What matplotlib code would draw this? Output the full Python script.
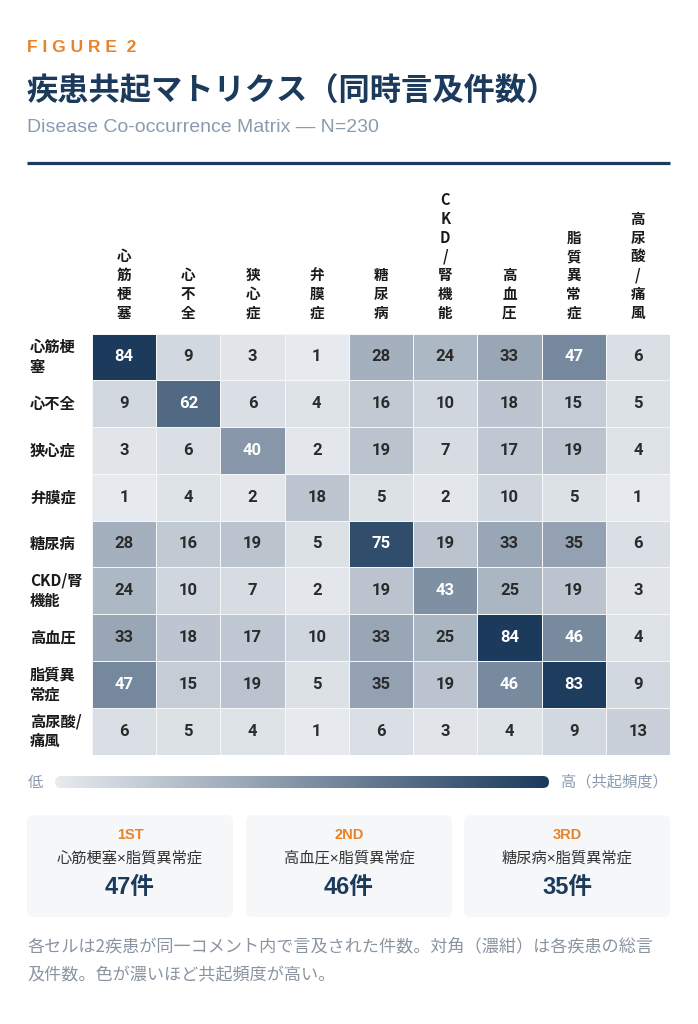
import numpy as np
import matplotlib
matplotlib.use("Agg")
import matplotlib.pyplot as plt
from matplotlib.colors import LinearSegmentedColormap
from matplotlib.patches import FancyBboxPatch

plt.rcParams["font.family"] = ["Noto Sans CJK JP", "DejaVu Sans"]

# data
diseases = ["心筋梗塞", "心不全", "狭心症", "弁膜症", "糖尿病",
            "CKD/腎機能", "高血圧", "脂質異常症", "高尿酸/痛風"]
row_labels = ["心筋梗\n塞", "心不全", "狭心症", "弁膜症", "糖尿病",
              "CKD/腎\n機能", "高血圧", "脂質異\n常症", "高尿酸/\n痛風"]
counts = np.array([
    [84, 9, 3, 1, 28, 24, 33, 47, 6],
    [9, 62, 6, 4, 16, 10, 18, 15, 5],
    [3, 6, 40, 2, 19, 7, 17, 19, 4],
    [1, 4, 2, 18, 5, 2, 10, 5, 1],
    [28, 16, 19, 5, 75, 19, 33, 35, 6],
    [24, 10, 7, 2, 19, 43, 25, 19, 3],
    [33, 18, 17, 10, 33, 25, 84, 46, 4],
    [47, 15, 19, 5, 35, 19, 46, 83, 9],
    [6, 5, 4, 1, 6, 3, 4, 9, 13],
])
top_ranks = ["1ST", "2ND", "3RD"]
top_pairs = ["心筋梗塞×脂質異常症", "高血圧×脂質異常症", "糖尿病×脂質異常症"]
top_counts = [47, 46, 35]

NAVY = "#1b3a5c"
ORANGE = "#e8832a"
GRAY = "#8a9bb0"
W, H = 698, 1024
LATIN = ["Liberation Sans", "Noto Sans CJK JP", "DejaVu Sans"]
NUMS = ["Roboto", "Noto Sans CJK JP"]

cmap = LinearSegmentedColormap.from_list("navy", ["#e8ebef", NAVY])

fig = plt.figure(figsize=(W / 100, H / 100), dpi=100)
bg = fig.add_axes([0, 0, 1, 1])
bg.set_xlim(0, W)
bg.set_ylim(H, 0)
bg.axis("off")

# header
bg.text(27, 48, "F I G U R E  2", color=ORANGE, fontsize=12.5, fontweight="bold",
        family=LATIN, va="center", ha="left")
bg.text(26, 92, "疾患共起マトリクス（同時言及件数）", color=NAVY, fontsize=22.5,
        fontweight="bold", va="center", ha="left")
bg.text(27, 127, "Disease Co-occurrence Matrix — N=230", color=GRAY, fontsize=14,
        family=LATIN, va="center", ha="left")
bg.plot([27, 670], [163, 163], color=NAVY, linewidth=2.3, solid_capstyle="butt")

# matrix
left, right, top, bottom = 92, 670, 333.5, 754.5
ax = fig.add_axes([left / W, 1 - bottom / H, (right - left) / W, (bottom - top) / H])
n = len(diseases)
ax.pcolormesh(np.arange(n + 1), np.arange(n + 1), counts, cmap=cmap,
              vmin=0, vmax=counts.max(), edgecolors="#f4f6f8", linewidth=0.4)
ax.set_xlim(0, n)
ax.set_ylim(n, 0)
for i in range(n):
    for j in range(n):
        v = counts[i, j]
        ax.text(j + 0.5, i + 0.5, str(v), ha="center", va="center",
                fontsize=12, fontweight="bold", family=NUMS,
                color="white" if v >= 40 else "#2b2b2b")
ax.xaxis.tick_top()
ax.set_xticks(np.arange(n) + 0.5)
ax.set_xticklabels(["\n".join(d) for d in diseases], fontsize=10.5,
                   fontweight="bold", linespacing=1.22, color="#1a1a1a")
ax.tick_params(axis="x", length=0, pad=9)
ax.set_yticks([])
for s in ax.spines.values():
    s.set_visible(False)
for i, lab in enumerate(row_labels):
    bg.text(30, top + (i + 0.5) * (bottom - top) / n, lab, ha="left", va="center",
            fontsize=11, fontweight="bold", color="#1a1a1a", linespacing=1.3)

# colour scale bar
bar = fig.add_axes([55 / W, 1 - 788 / H, (549 - 55) / W, 12 / H])
grad = np.linspace(0, 1, 256).reshape(1, -1)
im = bar.imshow(grad, cmap=cmap, aspect="auto", extent=[0, 494, 0, 12])
clip = FancyBboxPatch((0, 0), 494, 12, boxstyle="round,pad=0,rounding_size=6",
                      transform=bar.transData, facecolor="none", edgecolor="none")
bar.add_patch(clip)
im.set_clip_path(clip)
bar.axis("off")
bg.text(28, 782, "低", color=GRAY, fontsize=11, ha="left", va="center")
bg.text(561, 782, "高（共起頻度）", color=GRAY, fontsize=11, ha="left", va="center")

# top-3 cards
card_x = [27, 246, 464]
card_w = 206
for k in range(3):
    x0 = card_x[k]
    bg.add_patch(FancyBboxPatch((x0, 815), card_w, 102,
                                boxstyle="round,pad=0,rounding_size=7",
                                facecolor="#f5f7f9", edgecolor="none"))
    cx = x0 + card_w / 2
    bg.text(cx, 835, top_ranks[k], color=ORANGE, fontsize=10.5, fontweight="bold",
            family=LATIN, ha="center", va="center")
    bg.text(cx, 858, top_pairs[k], color="#333333", fontsize=11,
            family=LATIN, ha="center", va="center")
    bg.text(cx, 888, f"{top_counts[k]}件", color=NAVY, fontsize=17,
            fontweight="bold", family=LATIN, ha="center", va="center")

# footnote
bg.text(27, 946, "各セルは2疾患が同一コメント内で言及された件数。対角（濃紺）は各疾患の総言",
        color="#8a94a0", fontsize=12.3, ha="left", va="center")
bg.text(27, 975, "及件数。色が濃いほど共起頻度が高い。",
        color="#8a94a0", fontsize=12.3, ha="left", va="center")

fig.savefig("out.png", dpi=100)
plt.close()
